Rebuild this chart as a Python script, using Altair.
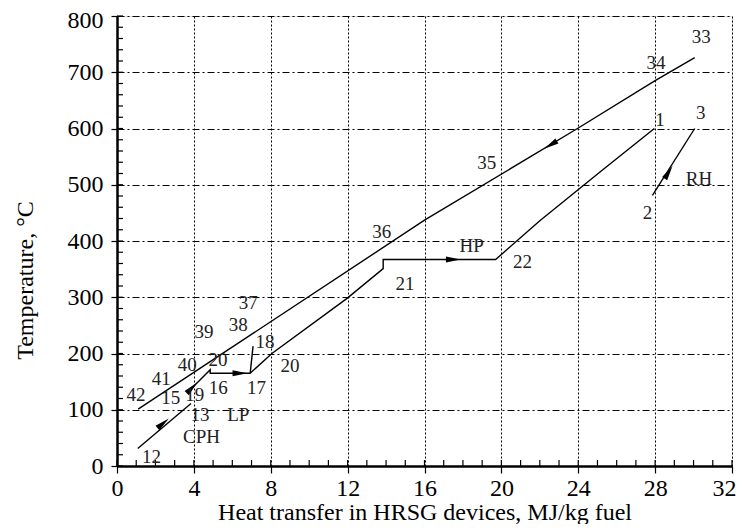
import altair as alt
import pandas as pd

FONT = "Liberation Serif"

# Flue-gas line (33 -> 42)
gas_x = [30.06, 28.0, 23.96, 16.0, 1.1]
gas_y = [726, 685, 600, 437, 101]

# Water / steam lines
cph_x = [1.08, 3.85]
cph_y = [31, 111]
lp_x = [3.8, 4.85, 4.85, 6.93, 7.08]
lp_y = [135, 171, 165, 165, 213]
hp_x = [6.93, 8.06, 11.97, 13.85, 13.85, 19.7, 22.0, 25.18, 27.96]
hp_y = [165, 200, 298, 351, 367, 367, 436, 524, 600]
rh_x = [27.86, 30.06]
rh_y = [481, 600]

# Arrow heads (position and direction)
arrow_x = [22.56, 2.4, 3.9, 6.4, 17.5, 28.7]
arrow_y = [571, 76, 139, 165, 367, 522]
arrow_angle = [149, 320, 315, 0, 0, 302]

# Point labels
lab_text = ["33", "34", "1", "3", "RH", "2", "35", "36", "HP", "22", "21",
            "37", "38", "39", "18", "20", "40", "20", "41", "42", "15", "19",
            "16", "17", "13", "LP", "CPH", "12"]
lab_x = [30.4, 28.05, 28.25, 30.37, 30.28, 27.6, 19.24, 13.77, 18.45, 21.1, 14.98,
         6.83, 6.31, 4.53, 7.7, 9.0, 3.65, 5.25, 2.3, 0.99, 2.8, 4.05,
         5.27, 7.26, 4.32, 6.31, 4.4, 1.8]
lab_y = [762, 716, 616, 628, 511, 449, 539, 416, 392, 363, 324,
         289, 250, 238, 220, 177, 180, 188, 154, 127, 121, 127,
         139, 139, 90, 90, 52, 16]

x_major = list(range(0, 33, 4))
y_major = list(range(0, 801, 100))
x_minor = list(range(0, 33, 1))
y_minor = list(range(0, 801, 20))

rows = []
for name, xs, ys in [("gas", gas_x, gas_y), ("cph", cph_x, cph_y), ("lp", lp_x, lp_y),
                     ("hp", hp_x, hp_y), ("rh", rh_x, rh_y)]:
    for i, (a, b) in enumerate(zip(xs, ys)):
        rows.append({"seg": name, "o": i, "x": a, "y": b})
lines_df = pd.DataFrame(rows)
arrows_df = pd.DataFrame({"x": arrow_x, "y": arrow_y, "a": arrow_angle})
labels_df = pd.DataFrame({"x": lab_x, "y": lab_y, "t": lab_text})
xminor_df = pd.DataFrame({"x": x_minor})
yminor_df = pd.DataFrame({"y": y_minor})

W, H = 615, 450

xaxis = alt.Axis(values=x_major, grid=True, gridDash=[2, 2], gridColor="black",
                 gridOpacity=1, gridWidth=1, tickColor="black", tickSize=7, tickWidth=1.2,
                 domainColor="black", domainWidth=2.5, labelFont=FONT, labelFontSize=24,
                 labelColor="black", labelPadding=3,
                 labelAlign={"condition": {"test": "datum.value == 32", "value": "right"}, "value": "center"},
                 labelOffset={"condition": {"test": "datum.value == 32", "value": 4}, "value": 0},
                 title="Heat transfer in HRSG devices, MJ/kg fuel", titleFont=FONT,
                 titleFontSize=24, titleFontWeight="normal", titleColor="black", titlePadding=0)
yaxis = alt.Axis(values=y_major, grid=True, gridDash=[7, 3, 2, 3], gridColor="black",
                 gridOpacity=1, gridWidth=1, tickColor="black", tickSize=6, tickWidth=1.2,
                 domainColor="black", domainWidth=2.5, labelFont=FONT, labelFontSize=24,
                 labelColor="black", labelPadding=8,
                 labelOffset={"condition": {"test": "datum.value == 800", "value": 4}, "value": 0},
                 title="Temperature, °C", titleFont=FONT, titleFontSize=24,
                 titleFontWeight="normal", titleColor="black", titleX=-92, titleY=264,
                 titleAlign="center", titleBaseline="middle")

xs = alt.Scale(domain=[0, 32], nice=False, zero=False)
ys = alt.Scale(domain=[0, 800], nice=False, zero=False)


def X(f="x"):
    return alt.X(f"{f}:Q", scale=xs, axis=xaxis)


def Y(f="y"):
    return alt.Y(f"{f}:Q", scale=ys, axis=yaxis)


lines = alt.Chart(lines_df).mark_line(color="black", strokeWidth=1.4).encode(
    x=X(), y=Y(), detail="seg:N", order="o:Q")

arrows = alt.Chart(arrows_df).mark_point(
    shape="M-1,-0.4L1,0L-1,0.4Z", filled=True, color="black", opacity=1, size=220
).encode(x=X(), y=Y(), angle=alt.Angle("a:Q", scale=None))

labels = alt.Chart(labels_df).mark_text(font=FONT, fontSize=19, color="#222",
                                        align="center", baseline="middle").encode(
    x=X(), y=Y(), text="t:N")

xticks = alt.Chart(xminor_df).mark_rule(color="black", strokeWidth=1.2).encode(
    x=X(), y=alt.value(H), y2=alt.value(H - 6))
yticks = alt.Chart(yminor_df).mark_rule(color="black", strokeWidth=1.2).encode(
    y=Y(), x=alt.value(0), x2=alt.value(6))

chart = alt.layer(xticks, yticks, lines, arrows, labels).properties(
    width=W, height=H,
    autosize=alt.AutoSizeParams(type="none"),
    padding={"left": 109, "top": 8, "right": 4, "bottom": 58},
).configure_view(stroke="black", strokeWidth=1.2).configure(background="white")

chart.save("out.html", embed_options={"renderer": "svg", "actions": False})
